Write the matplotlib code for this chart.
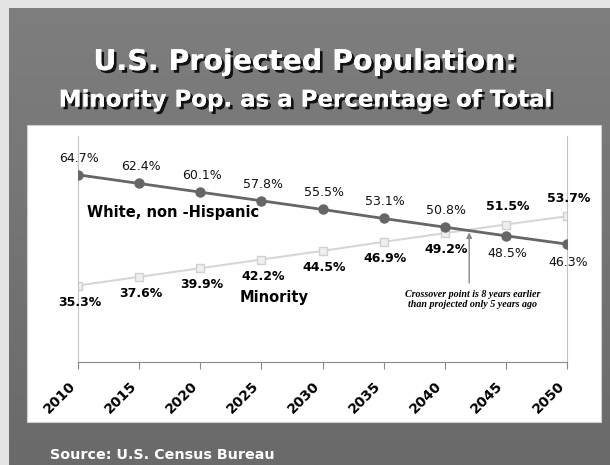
import matplotlib.pyplot as plt
import matplotlib.patheffects as pe
from matplotlib.patches import Rectangle
from matplotlib.transforms import ScaledTranslation
import numpy as np

# data
years = ['2010', '2015', '2020', '2025', '2030', '2035', '2040', '2045', '2050']
white_pct = [64.7, 62.4, 60.1, 57.8, 55.5, 53.1, 50.8, 48.5, 46.3]
minority_pct = [35.3, 37.6, 39.9, 42.2, 44.5, 46.9, 49.2, 51.5, 53.7]

W, H = 610, 465
fig = plt.figure(figsize=(W / 100, H / 100), dpi=100)
fig.patch.set_facecolor('#e4e4e4')

# slide background (gray, slight vertical gradient)
bg = fig.add_axes([9 / W, 0, 1 - 9 / W, 1 - 8 / H])
bg.set_zorder(-2)
grad = np.linspace(0, 1, 256).reshape(-1, 1)
bg.imshow(grad, aspect='auto', cmap=plt.cm.colors.LinearSegmentedColormap.from_list(
    'g', ['#7e7e7e', '#6a6a6a']), extent=[0, 1, 0, 1], origin='upper')
bg.axis('off')

# white panel
fig.patches.append(Rectangle((27 / W, 1 - 422 / H), 574 / W, 297 / H,
                             transform=fig.transFigure, facecolor='white',
                             edgecolor='#cfcfcf', lw=0.8, zorder=-1))

shadow = [pe.withSimplePatchShadow(offset=(2, -2), shadow_rgbFace='black', alpha=0.85), pe.Normal()]
fig.text(0.5, 1 - 62 / H, 'U.S. Projected Population:', color='white', fontsize=20.5,
         fontweight='bold', ha='center', va='center', path_effects=shadow)
fig.text(0.5, 1 - 100 / H, 'Minority Pop. as a Percentage of Total', color='white',
         fontsize=16.5, fontweight='bold', ha='center', va='center', path_effects=shadow)
fig.text(50 / W, 1 - 455 / H, 'Source: U.S. Census Bureau', color='white', fontsize=10.3,
         fontweight='bold', ha='left', va='center')

ax = fig.add_axes([78 / W, 1 - 362 / H, 489 / W, 226 / H])
ax.set_zorder(3)
ax.set_facecolor('none')
x = np.arange(len(years))

ax.plot(x, white_pct, color='#666666', lw=2, marker='o', markersize=6.5, zorder=3)
ax.plot(x, minority_pct, color='#d6d6d6', lw=1.5, marker='s', markersize=5.5,
        markerfacecolor='#efefef', markeredgecolor='#d0d0d0', zorder=2)

for i in x:
    w, m = white_pct[i], minority_pct[i]
    dy = 12 if w > m else -13
    ax.annotate(f'{w}%', (i, w), xytext=(1, dy), textcoords='offset points',
                ha='center', va='center', fontsize=9, color='#111111')
    ax.annotate(f'{m}%', (i, m), xytext=(1, -dy), textcoords='offset points',
                ha='center', va='center', fontsize=9, fontweight='bold', color='black')

ax.text(0.15, 54.8, 'White, non -Hispanic', fontsize=10.5, fontweight='bold', ha='left', va='center')
ax.text(2.65, 32.0, 'Minority', fontsize=10.5, fontweight='bold', ha='left', va='center')

ax.annotate('', xy=(6.4, 49.4), xytext=(6.4, 36.0),
            arrowprops=dict(arrowstyle='-|>', color='#888888', lw=1, mutation_scale=8,
                            shrinkA=0, shrinkB=0))
ax.text(6.46, 31.6, 'Crossover point is 8 years earlier\nthan projected only 5 years ago',
        family='Liberation Serif', fontsize=7.2, fontstyle='italic', fontweight='bold',
        ha='center', va='center', linespacing=1.1)

ax.set_xlim(0, 8)
ax.set_ylim(15, 75)
ax.set_xticks(x)
ax.set_xticklabels(years, rotation=45, ha='right', va='top', fontsize=10, fontweight='bold')
shift = ScaledTranslation(-5 / 100, 0, fig.dpi_scale_trans)
for lbl in ax.get_xticklabels():
    lbl.set_transform(lbl.get_transform() + shift)
ax.tick_params(axis='x', direction='out', length=5, color='#888888', pad=7)
ax.set_yticks([])
for s in ['left', 'right']:
    ax.spines[s].set_color('#c4c4c4')
ax.spines['bottom'].set_color('#888888')
ax.spines['top'].set_visible(False)

fig.savefig('out.png', dpi=100)
